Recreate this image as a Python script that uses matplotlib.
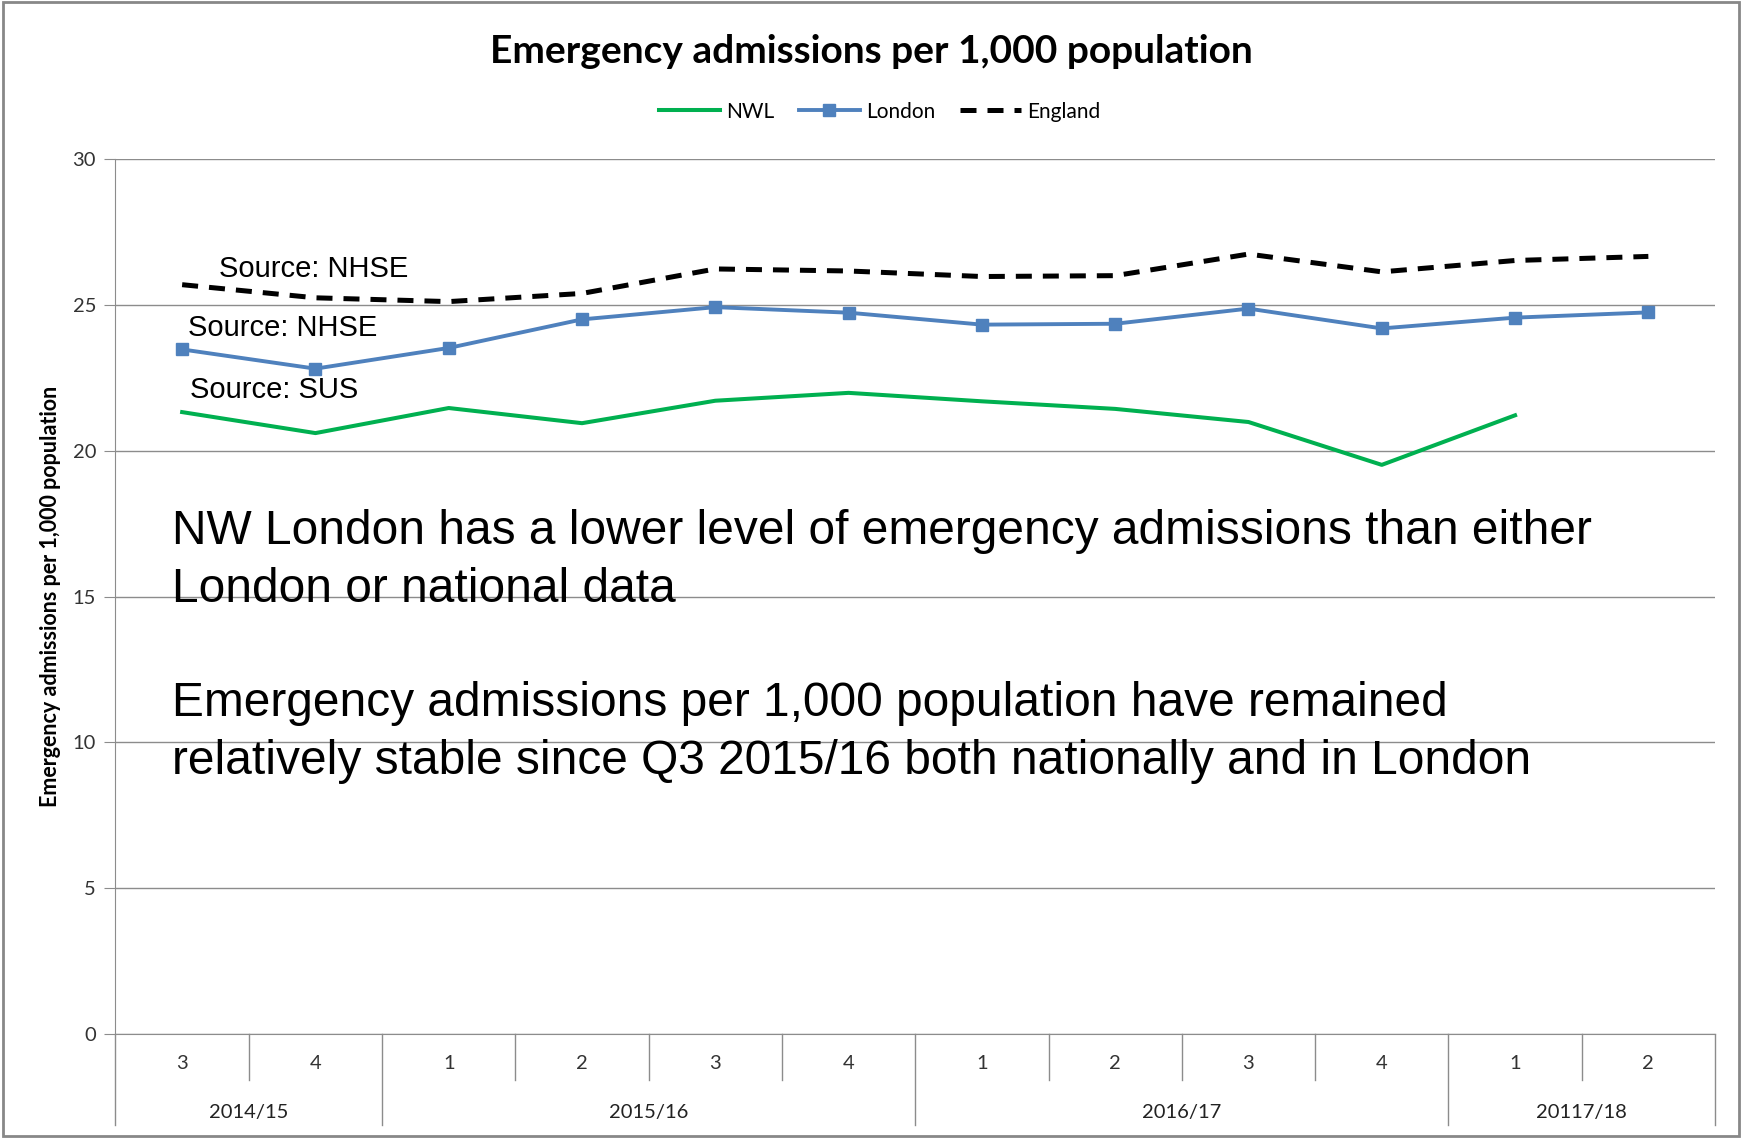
import numpy as np
import matplotlib
matplotlib.use("Agg")
import matplotlib.pyplot as plt
import matplotlib.transforms as mtransforms

plt.rcParams['font.family'] = ['Lato', 'DejaVu Sans']

# data
quarters = ["3", "4", "1", "2", "3", "4", "1", "2", "3", "4", "1", "2"]
years = ["2014/15", "2015/16", "2016/17", "20117/18"]
year_spans = [(0, 1), (2, 5), (6, 9), (10, 11)]

nwl     = [21.33, 20.61, 21.47, 20.95, 21.72, 21.99, 21.70, 21.44, 20.99, 19.52, 21.22, np.nan]
london  = [23.48, 22.82, 23.53, 24.51, 24.93, 24.74, 24.33, 24.36, 24.88, 24.20, 24.57, 24.75]
england = [25.70, 25.25, 25.12, 25.40, 26.24, 26.17, 25.98, 26.01, 26.75, 26.14, 26.53, 26.67]

note_lines = ["NW London has a lower level of emergency admissions than either",
              "London or national data",
              "Emergency admissions per 1,000 population have remained",
              "relatively stable since Q3 2015/16 both nationally and in London"]
note_y = [17.22, 15.24, 11.32, 9.34]

sources = ["Source: NHSE", "Source: NHSE", "Source: SUS"]
source_pos = [(0.275, 26.23), (0.042, 24.21), (0.058, 22.08)]

arial = ["Liberation Sans", "DejaVu Sans"]

fig = plt.figure(figsize=[17.42, 11.38], dpi=100)
ax = fig.add_axes([0.0663, 0.0914, 0.9182, 0.7686])

x = np.arange(len(quarters))
grid_c = "#8c8c8c"

ax.plot(x, nwl, color="#00B050", lw=2.9, label="NWL", zorder=3)
ax.plot(x, london, color="#4F81BD", lw=2.8, marker="s", ms=9, label="London", zorder=3)
ax.plot(x, england, color="black", lw=3.6, ls=(0, (3.2, 2.2)), label="England", zorder=3)

ax.set_xlim(-0.5, 11.5)
ax.set_ylim(0, 30)
ax.set_yticks(np.arange(0, 31, 5))
ax.yaxis.grid(True, color=grid_c, lw=1.0)
ax.set_axisbelow(True)
for s in ["top", "right"]:
    ax.spines[s].set_visible(False)
ax.spines["left"].set_color(grid_c)
ax.spines["bottom"].set_color(grid_c)
ax.tick_params(axis="y", length=8, color=grid_c, labelsize=14.5, pad=6, labelcolor="#333333")
ax.set_xticks([])

ax.set_ylabel("Emergency admissions per 1,000 population", fontsize=15.5, fontweight="bold")
ax.yaxis.set_label_coords(-0.034, 0.5)

# category axis (quarters + years)
trans = mtransforms.blended_transform_factory(ax.transData, ax.transAxes)
for i, q in enumerate(quarters):
    ax.text(i, -0.0343, q, transform=trans, ha="center", va="center", fontsize=14.5, color="#333333")
for i in range(len(quarters) + 1):
    xb = i - 0.5
    is_year = xb in [-0.5, 11.5] or any(abs(xb - (s[0] - 0.5)) < 1e-6 for s in year_spans)
    ybot = -0.104 if is_year else -0.0526
    ax.plot([xb, xb], [0, ybot], transform=trans, color=grid_c, lw=1.0, clip_on=False)
for label, (a, b) in zip(years, year_spans):
    ax.text((a + b) / 2, -0.09, label, transform=trans, ha="center", va="center", fontsize=14.5, color="#222222")

# source annotations
for s, (sx, sy) in zip(sources, source_pos):
    ax.text(sx, sy, s, fontsize=21, family=arial, va="center")

for line, ly in zip(note_lines, note_y):
    ax.text(-0.073, ly, line, fontsize=34.5, family=arial, va="center")

fig.text(0.5, 0.955, "Emergency admissions per 1,000 population", ha="center", va="center",
         fontsize=28, fontweight="bold")
fig.legend(loc="center", bbox_to_anchor=(0.505, 0.902), ncol=3, frameon=False, fontsize=15,
           handlelength=2.9, columnspacing=1.2, handletextpad=0.3)

# outer chart border
fig.patches.append(plt.Rectangle((0.002, 0.002), 0.996, 0.996, transform=fig.transFigure,
                                 fill=False, edgecolor="#888888", lw=2))

fig.savefig("out.png", dpi=100)
